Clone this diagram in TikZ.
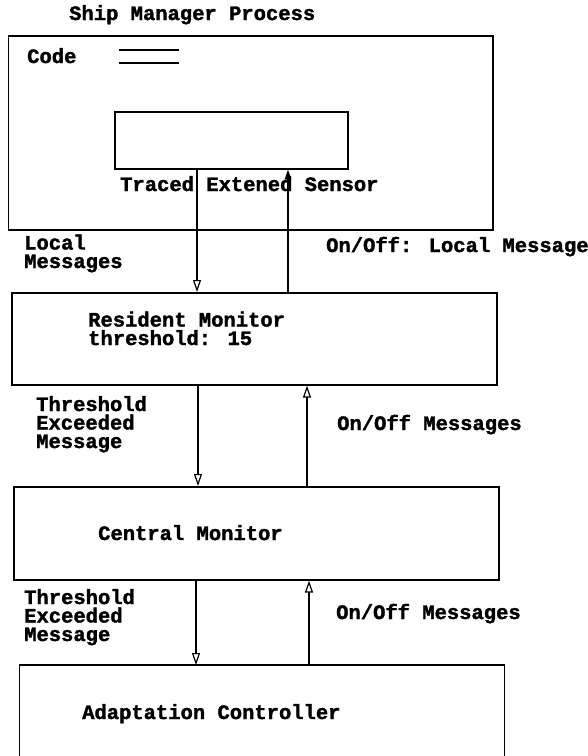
\documentclass[tikz,border=0pt]{standalone}
\usepackage{fontspec}
\newfontfamily\courb{Liberation Mono Bold}[FakeBold=1.6]
\usetikzlibrary{arrows.meta}
\tikzset{
  box/.style={draw, line width=1.6pt, inner sep=0pt, anchor=north west},
  lbl/.style={inner sep=0pt, anchor=base west, align=left, font=\courb\fontsize{20.5}{18.5}\selectfont},
  conn/.style={line width=1.3pt},
  openhead/.style={conn, -{Triangle[open, width=8pt, length=12pt, line width=1.2pt]}},
  fillhead/.style={conn, line width=1.6pt, -{Triangle[width=6.5pt, length=10pt]}}
}
\begin{document}
\begin{tikzpicture}[x=1pt, y=-1pt]
\useasboundingbox (0,0) rectangle (588,756);
% boxes
\node[box, minimum width=484.5pt, minimum height=194pt] (smp) at (7.5,35) {};
\node[box, minimum width=233pt, minimum height=57pt] (tes) at (114,111) {};
\node[box, minimum width=485pt, minimum height=92pt] (rm) at (11,292) {};
\node[box, minimum width=485pt, minimum height=93pt] (cm) at (13,486) {};
\node[inner sep=0pt, anchor=north west, minimum width=484.5pt, minimum height=100pt] (ac) at (19.5,665) {};
\draw[line width=1.6pt] (ac.south west) -- (ac.north west) -- (ac.north east) -- (ac.south east);
% code lines
\draw[line width=1.4pt] (119,50) -- (179,50);
\draw[line width=1.4pt] (119,63) -- (179,63);
% labels
\node[lbl] (title) at (69,20) {Ship Manager Process};
\node[lbl] (code) at (27,63) {Code};
\node[lbl] (tesl) at (120,191) {Traced Extened Sensor};
\node[lbl] (lm) at (24,268) {Local\\Messages};
\node[lbl] (oflm) at (326,252) {On/Off: Local Message};
\node[lbl] (rml) at (88,345) {Resident Monitor\\threshold: 15};
\node[lbl] (te) at (36,448) {Threshold\\Exceeded\\Message};
\node[lbl] (ofm1) at (337,430) {On/Off Messages};
\node[lbl] (cml) at (98,540) {Central Monitor};
\node[lbl] (tf) at (24,641) {Threshold\\Exceeded\\Message};
\node[lbl] (ofm2) at (336,619) {On/Off Messages};
\node[lbl] (acl) at (82,719) {Adaptation Controller};
% connectors
\coordinate (d1) at (197,0);
\coordinate (u1) at (288,0);
\coordinate (d2) at (198,0);
\coordinate (u2) at (307,0);
\coordinate (d3) at (196,0);
\coordinate (u3) at (309,0);
\draw[openhead] (d1 |- tes.south) -- (d1 |- rm.north);
\draw[fillhead] (u1 |- rm.north) -- (u1 |- tes.south);
\draw[openhead] (d2 |- rm.south) -- (d2 |- cm.north);
\draw[openhead] (u2 |- cm.north) -- (u2 |- rm.south);
\draw[openhead] (d3 |- cm.south) -- (d3 |- ac.north);
\draw[openhead] (u3 |- ac.north) -- (u3 |- cm.south);
\end{tikzpicture}
\end{document}
